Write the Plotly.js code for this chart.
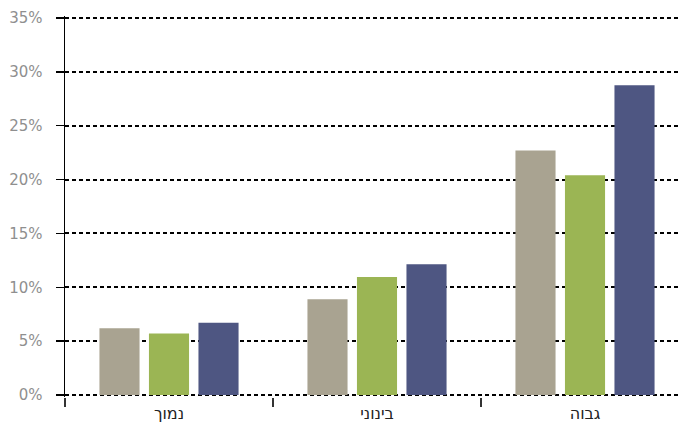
<!DOCTYPE html>
<html>
<head>
<meta charset="utf-8">
<script src="https://cdn.plot.ly/plotly-3.0.1.min.js"></script>
<style>html,body{margin:0;padding:0;background:#fff;}#chart{width:681px;height:425px;}</style>
</head>
<body>
<div id="chart"></div>
<script>
const categories = ["נמוך", "בינוני", "גבוה"];
const seriesNames = ["סדרה 1", "סדרה 2", "סדרה 3"];
const series1 = [0.062, 0.089, 0.227];
const series2 = [0.057, 0.1095, 0.204];
const series3 = [0.067, 0.1215, 0.2875];
const colors = ["#A9A391", "#9BB554", "#4E5682"];
const yTicks = [0, 0.05, 0.10, 0.15, 0.20, 0.25, 0.30, 0.35];

const data = [series1, series2, series3].map((vals, i) => ({
  type: "bar",
  x: categories,
  y: vals,
  name: seriesNames[i],
  marker: {color: colors[i]},
  hoverinfo: "none"
}));

const layout = {
  width: 681, height: 425,
  margin: {l: 65, r: 0, t: 16, b: 28, pad: 0},
  paper_bgcolor: "#fff", plot_bgcolor: "#fff",
  showlegend: false,
  barmode: "group",
  bargap: 0.286,
  bargroupgap: 0.19,
  font: {family: "DejaVu Sans, sans-serif"},
  xaxis: {
    type: "category",
    range: [-0.5, 2.4615],
    showgrid: false,
    zeroline: false,
    showline: false,
    ticks: "outside",
    tickson: "boundaries",
    ticklen: 9,
    tickwidth: 1.5,
    tickcolor: "#333",
    ticklabelstandoff: 5,
    tickfont: {size: 16, color: "#222", family: "DejaVu Sans, sans-serif"},
    fixedrange: true
  },
  yaxis: {
    range: [-0.001857, 0.351857],
    tickvals: yTicks,
    tickformat: ".0%",
    showgrid: true,
    gridcolor: "#000",
    gridwidth: 2,
    griddash: "4px,3px",
    zeroline: false,
    showline: true,
    linecolor: "#000",
    linewidth: 1.5,
    ticks: "outside",
    ticklen: 8,
    tickwidth: 1.5,
    tickcolor: "#000",
    ticklabelstandoff: 10,
    tickfont: {size: 15, color: "#8f8f8f", family: "DejaVu Sans, sans-serif"},
    fixedrange: true
  }
};

Plotly.newPlot("chart", data, layout, {displayModeBar: false, staticPlot: true});
</script>
</body>
</html>
